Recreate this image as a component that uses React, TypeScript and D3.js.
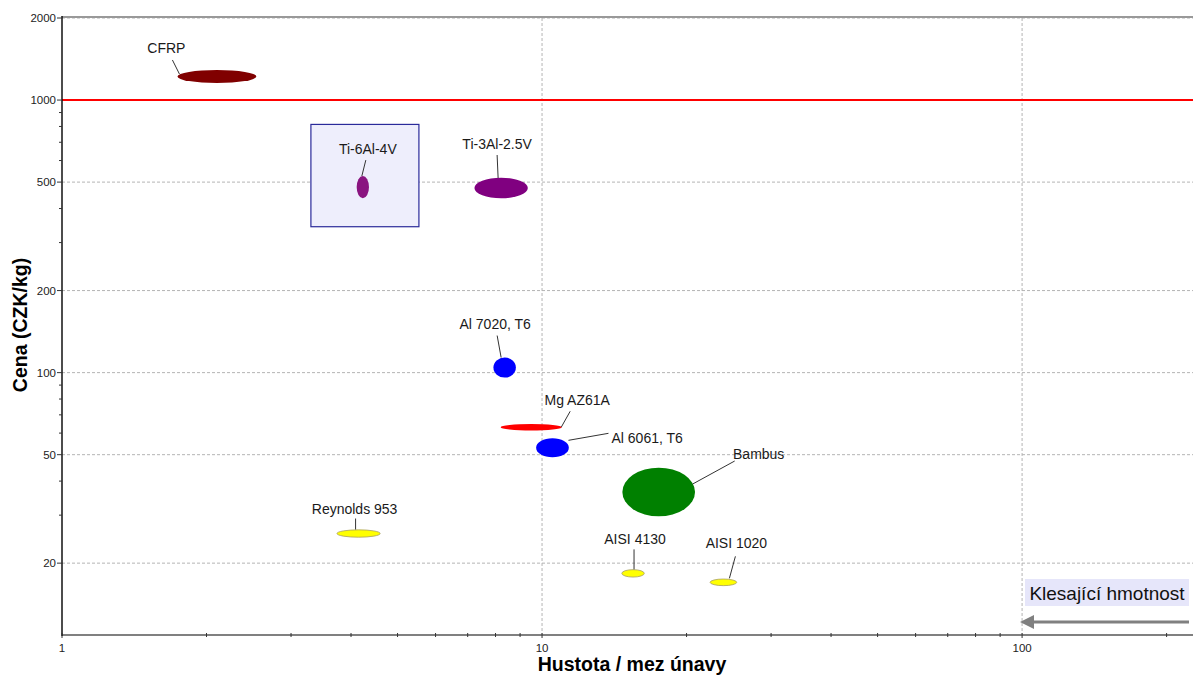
import React from "react";
import * as d3 from "d3";

// ---- data ----
const materials = ["CFRP", "Ti-6Al-4V", "Ti-3Al-2.5V", "Al 7020, T6", "Mg AZ61A", "Al 6061, T6", "Bambus", "Reynolds 953", "AISI 4130", "AISI 1020"];
// density / fatigue limit (x) ranges
const xLow = [1.74, 4.11, 7.23, 7.92, 8.2, 9.72, 14.7, 3.74, 14.66, 22.39];
const xHigh = [2.54, 4.36, 9.34, 8.82, 10.99, 11.37, 20.83, 4.6, 16.33, 25.44];
// price CZK/kg (y) ranges
const yLow = [1155, 436, 436, 95.9, 61.3, 48.9, 29.7, 24.9, 17.78, 16.54];
const yHigh = [1289, 527, 519, 113.6, 64.8, 57.4, 44.8, 26.5, 18.93, 17.49];
const colors = ["#800000", "#8a1480", "#800080", "#0000ff", "#ff0000", "#0000ff", "#008000", "#ffff00", "#ffff00", "#ffff00"];

// highlighted selection box (data coordinates)
const boxX = [3.3, 5.54];
const boxY = [343, 814];

const limitPrice = 1000;
const xTicksLabeled = [1, 10, 100];
const yTicksLabeled = [2000, 1000, 500, 200, 100, 50, 20];
const yMinorTicks = [30, 40, 60, 70, 80, 90, 300, 400, 600, 700, 800, 900];
const xDomain = [1, 227];
const yDomain = [10.9, 2000];

const xTitle = "Hustota / mez únavy";
const yTitle = "Cena (CZK/kg)";
const arrowText = "Klesající hmotnost";

// ---- layout (pixel offsets of labels relative to ellipse centre) ----
const labelLayout: { dx: number; dy: number; anchor: string; l1: [number, number]; l2: [number, number] }[] = [
  { dx: -50.5, dy: -28.5, anchor: "middle", l1: [-44.5, -16.5], l2: [-37.5, -2.5] },
  { dx: 5, dy: -38, anchor: "middle", l1: [3, -27], l2: [-1, -11] },
  { dx: -4, dy: -44, anchor: "middle", l1: [-4, -33], l2: [-3, -10] },
  { dx: -9.5, dy: -44, anchor: "middle", l1: [-7.5, -32], l2: [-3.5, -10] },
  { dx: 46, dy: -27, anchor: "middle", l1: [39, -16], l2: [30, 0] },
  { dx: 59, dy: -9.5, anchor: "start", l1: [56, -14.5], l2: [16, -7.5] },
  { dx: 100, dy: -38, anchor: "middle", l1: [76, -31], l2: [34, -8] },
  { dx: -4, dy: -25, anchor: "middle", l1: [-3, -15], l2: [-3, -4] },
  { dx: 2, dy: -34, anchor: "middle", l1: [1, -24], l2: [1, -4] },
  { dx: 13, dy: -39, anchor: "middle", l1: [12, -26], l2: [6, -4] },
];

const W = 1193;
const H = 675;
const left = 62;
const right = 1193;
const top = 18;
const bottom = 635;
const font = "'Liberation Sans', Arial, sans-serif";

export default function App() {
  const x = d3.scaleLog().domain(xDomain).range([left, right]);
  const y = d3.scaleLog().domain(yDomain).range([bottom, top]);

  const xMinor: number[] = [];
  [1, 10, 100].forEach((d) => {
    for (let k = 2; k <= 9; k++) {
      const v = d * k;
      if (v <= xDomain[1]) xMinor.push(v);
    }
  });

  const grid = "#b4b4b4";

  return (
    <svg width={W} height={H} style={{ position: "absolute", left: 0, top: 0, display: "block", background: "#fff" }} fontFamily={font}>
      <rect x={0} y={0} width={W} height={H} fill="#fff" />
      {/* grid */}
      {yTicksLabeled.map((t) => (
        <line key={"gy" + t} x1={left} x2={right} y1={y(t)} y2={y(t)} stroke={grid} strokeDasharray="3,2" strokeWidth={1} />
      ))}
      {xTicksLabeled.filter((t) => t > 1).map((t) => (
        <line key={"gx" + t} x1={x(t)} x2={x(t)} y1={top} y2={bottom} stroke={grid} strokeDasharray="3,2" strokeWidth={1} />
      ))}
      {/* top frame */}
      <line x1={left} x2={right} y1={top - 1} y2={top - 1} stroke="#999" strokeWidth={2} />

      {/* selection box */}
      <rect x={x(boxX[0])} y={y(boxY[1])} width={x(boxX[1]) - x(boxX[0])} height={y(boxY[0]) - y(boxY[1])} fill="#eeeefc" stroke="#2a2a9a" strokeWidth={1.2} />

      {/* limit line */}
      <line x1={left} x2={right} y1={y(limitPrice)} y2={y(limitPrice)} stroke="#ff0000" strokeWidth={2} />

      {/* ellipses */}
      {materials.map((m, i) => {
        const x0 = x(xLow[i]);
        const x1 = x(xHigh[i]);
        const y0 = y(yHigh[i]);
        const y1 = y(yLow[i]);
        const yellow = colors[i] === "#ffff00";
        return (
          <ellipse
            key={"e" + m}
            cx={(x0 + x1) / 2}
            cy={(y0 + y1) / 2}
            rx={(x1 - x0) / 2}
            ry={(y1 - y0) / 2}
            fill={colors[i]}
            stroke={yellow ? "#a8a060" : "none"}
            strokeWidth={yellow ? 0.8 : 0}
          />
        );
      })}

      {/* labels + leaders */}
      {materials.map((m, i) => {
        const cx = (x(xLow[i]) + x(xHigh[i])) / 2;
        const cy = (y(yHigh[i]) + y(yLow[i])) / 2;
        const L = labelLayout[i];
        return (
          <g key={"l" + m}>
            <line x1={cx + L.l1[0]} y1={cy + L.l1[1]} x2={cx + L.l2[0]} y2={cy + L.l2[1]} stroke="#333" strokeWidth={1} />
            <text x={cx + L.dx} y={cy + L.dy} textAnchor={L.anchor} dominantBaseline="central" fontSize={14} fill="#1a1a1a">
              {m}
            </text>
          </g>
        );
      })}

      {/* axes */}
      <line x1={left} x2={right} y1={bottom} y2={bottom} stroke="#808080" strokeWidth={2} />
      <line x1={left} x2={left} y1={top - 2} y2={bottom + 1} stroke="#111" strokeWidth={1.5} />
      {yTicksLabeled.map((t) => (
        <g key={"yt" + t}>
          <line x1={left - 5} x2={left} y1={y(t)} y2={y(t)} stroke="#333" strokeWidth={1} />
          <text x={left - 6} y={y(t)} textAnchor="end" dominantBaseline="central" fontSize={11.5} fill="#222">
            {t}
          </text>
        </g>
      ))}
      {yMinorTicks.map((t) => (
        <line key={"ym" + t} x1={left - 3} x2={left} y1={y(t)} y2={y(t)} stroke="#333" strokeWidth={1} />
      ))}
      {xMinor.map((t) => (
        <line key={"xm" + t} x1={x(t)} x2={x(t)} y1={bottom - 2} y2={bottom + 2} stroke="#333" strokeWidth={1} />
      ))}
      {xTicksLabeled.map((t) => (
        <g key={"xt" + t}>
          <line x1={x(t)} x2={x(t)} y1={bottom - 2} y2={bottom + 3} stroke="#333" strokeWidth={1} />
          <text x={x(t)} y={bottom + 13} textAnchor="middle" dominantBaseline="central" fontSize={11.5} fill="#222">
            {t}
          </text>
        </g>
      ))}

      {/* titles */}
      <text x={632} y={671} textAnchor="middle" fontSize={19.5} fontWeight="bold" fill="#000">
        {xTitle}
      </text>
      <text transform={`translate(27,${325}) rotate(-90)`} textAnchor="middle" fontSize={19.5} fontWeight="bold" fill="#000">
        {yTitle}
      </text>

      {/* direction annotation */}
      <rect x={1025} y={579} width={164} height={27} fill="#e6e6fa" />
      <text x={1107} y={593} textAnchor="middle" dominantBaseline="central" fontSize={19} fill="#111">
        {arrowText}
      </text>
      <line x1={1189} x2={1032} y1={622} y2={622} stroke="#808080" strokeWidth={3} />
      <path d="M1020,622 L1034,615 L1034,629 Z" fill="#808080" />
    </svg>
  );
}
